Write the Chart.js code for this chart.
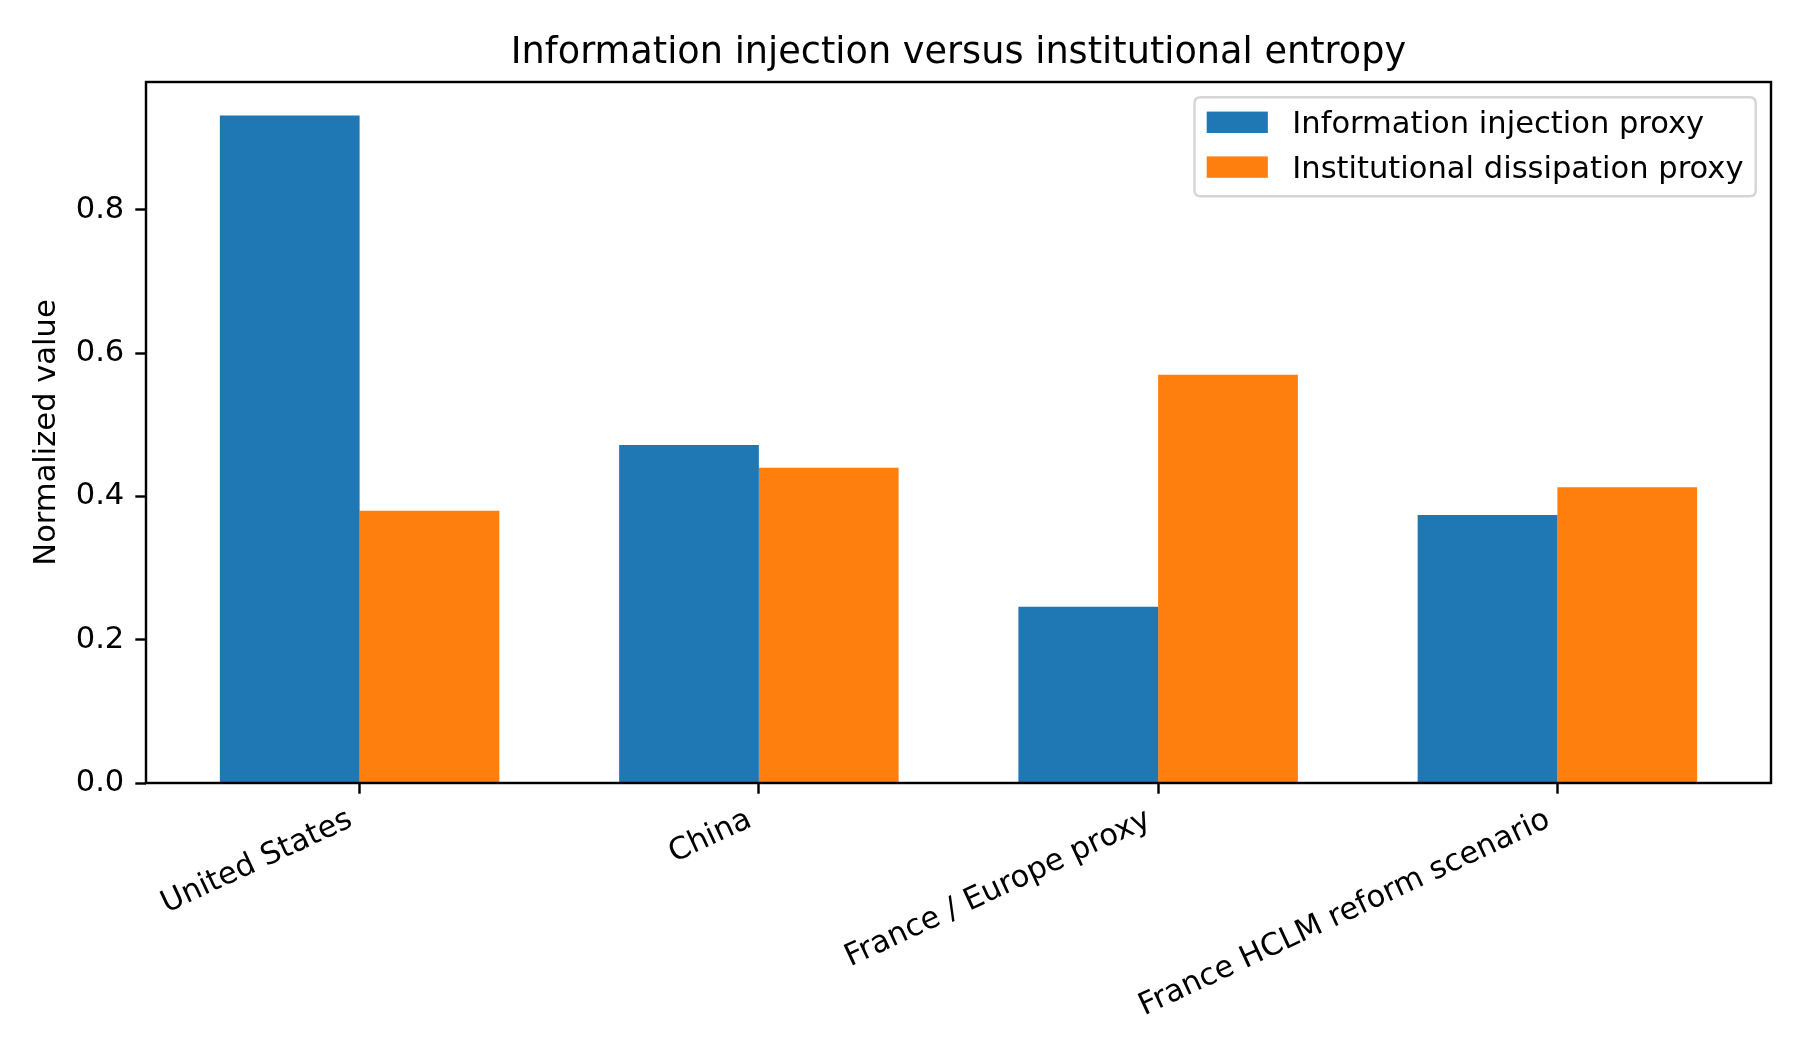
<!DOCTYPE html>
<html>
<head>
<meta charset="utf-8">
<script src="https://cdn.jsdelivr.net/npm/chart.js@4"></script>
<style>
  html, body { margin: 0; padding: 0; background: #ffffff; }
  #wrap { width: 1803px; height: 1056px; }
</style>
</head>
<body>
<div id="wrap"><canvas id="c" width="1803" height="1056"></canvas></div>
<script>
const chartTitle = 'Information injection versus institutional entropy';
const yAxisTitle = 'Normalized value';
const categories = ['United States', 'China', 'France / Europe proxy', 'France HCLM reform scenario'];
const seriesLabels = ['Information injection proxy', 'Institutional dissipation proxy'];
const injectionValues = [0.932, 0.472, 0.246, 0.374];
const dissipationValues = [0.380, 0.440, 0.570, 0.413];
const yTickValues = [0.0, 0.2, 0.4, 0.6, 0.8];
const seriesColors = ['#1f77b4', '#ff7f0e'];

const FS = 30.56;      // 10pt at 220 dpi
const TITLE_FS = 36.67; // 12pt at 220 dpi
const LW = 2.44;       // 0.8pt

Chart.defaults.font.family = '"DejaVu Sans", sans-serif';
Chart.defaults.color = '#000000';

const toPoints = vals => vals.map((v, i) => ({ x: i, y: v }));

const framePlugin = {
  id: 'frame',
  afterDatasetsDraw(chart) {
    const { ctx, chartArea: a } = chart;
    ctx.save();
    ctx.strokeStyle = '#000000';
    ctx.lineWidth = LW;
    ctx.strokeRect(a.left, a.top, a.right - a.left, a.bottom - a.top);
    ctx.restore();
  }
};

const legendPlugin = {
  id: 'mplLegend',
  afterDraw(chart) {
    const { ctx, chartArea: a } = chart;
    const ds = chart.data.datasets;
    ctx.save();
    ctx.font = FS + 'px "DejaVu Sans"';
    let maxW = 0;
    ds.forEach(d => { maxW = Math.max(maxW, ctx.measureText(d.label).width); });
    const pad = 0.5 * FS;
    const borderPad = 0.4 * FS;
    const handleLen = 2.0 * FS;
    const handleTextPad = 0.8 * FS;
    const rowH = 44.8;
    const boxW = 2 * borderPad + handleLen + handleTextPad + maxW;
    const boxH = 99;
    const right = a.right - pad;
    const top = a.top + pad;
    const left = right - boxW;
    const r = 6;
    ctx.beginPath();
    ctx.moveTo(left + r, top);
    ctx.lineTo(right - r, top);
    ctx.quadraticCurveTo(right, top, right, top + r);
    ctx.lineTo(right, top + boxH - r);
    ctx.quadraticCurveTo(right, top + boxH, right - r, top + boxH);
    ctx.lineTo(left + r, top + boxH);
    ctx.quadraticCurveTo(left, top + boxH, left, top + boxH - r);
    ctx.lineTo(left, top + r);
    ctx.quadraticCurveTo(left, top, left + r, top);
    ctx.closePath();
    ctx.fillStyle = 'rgba(255,255,255,0.8)';
    ctx.fill();
    ctx.strokeStyle = '#d6d6d6';
    ctx.lineWidth = LW;
    ctx.stroke();
    ds.forEach((d, i) => {
      const cy = top + 25 + i * rowH;
      const hx = left + borderPad;
      ctx.fillStyle = d.backgroundColor;
      ctx.fillRect(hx, cy - 0.35 * FS, handleLen, 0.7 * FS);
      ctx.fillStyle = '#000000';
      ctx.textAlign = 'left';
      ctx.textBaseline = 'alphabetic';
      ctx.fillText(d.label, hx + handleLen + handleTextPad, cy + 0.36 * FS);
    });
    ctx.restore();
  }
};

new Chart(document.getElementById('c'), {
  type: 'bar',
  data: {
    datasets: [
      { label: seriesLabels[0], data: toPoints(injectionValues), backgroundColor: seriesColors[0], borderWidth: 0 },
      { label: seriesLabels[1], data: toPoints(dissipationValues), backgroundColor: seriesColors[1], borderWidth: 0 }
    ]
  },
  options: {
    responsive: false,
    animation: false,
    devicePixelRatio: 1,
    layout: { padding: { left: 0, right: 32, top: 0, bottom: 0 } },
    datasets: { bar: { categoryPercentage: 0.7, barPercentage: 1.0 } },
    plugins: {
      legend: { display: false },
      tooltip: { enabled: false },
      title: {
        display: true,
        fullSize: false,
        text: chartTitle,
        color: '#000000',
        font: { size: TITLE_FS, weight: 'normal', lineHeight: 1.2 },
        padding: { top: 31, bottom: 7 }
      }
    },
    scales: {
      x: {
        type: 'linear',
        min: -0.535,
        max: categories.length - 1 + 0.535,
        offset: false,
        border: { display: false },
        grid: { display: true, offset: false, drawOnChartArea: false, drawTicks: true, tickLength: 10.7, tickWidth: LW, tickColor: '#000000' },
        afterBuildTicks(scale) { scale.ticks = categories.map((_, i) => ({ value: i })); },
        afterFit(scale) { scale.height = 1056 - 783; },
        ticks: {
          autoSkip: false,
          minRotation: 25,
          maxRotation: 25,
          padding: 8,
          labelOffset: -9,
          color: '#000000',
          font: { size: FS },
          callback: (v) => categories[Math.round(v)]
        }
      },
      y: {
        type: 'linear',
        min: 0,
        max: 0.9786,
        border: { display: false },
        grid: { display: true, drawOnChartArea: false, drawTicks: true, tickLength: 10.7, tickWidth: LW, tickColor: '#000000' },
        afterBuildTicks(scale) { scale.ticks = yTickValues.map(v => ({ value: v })); },
        afterFit(scale) { scale.width = 146; },
        ticks: {
          padding: 11,
          color: '#000000',
          font: { size: FS },
          callback: (v) => Number(v).toFixed(1)
        },
        title: {
          display: true,
          text: yAxisTitle,
          color: '#000000',
          font: { size: FS, lineHeight: 1.2 },
          padding: { top: 29, bottom: 0 }
        }
      }
    }
  },
  plugins: [framePlugin, legendPlugin]
});
</script>
</body>
</html>
